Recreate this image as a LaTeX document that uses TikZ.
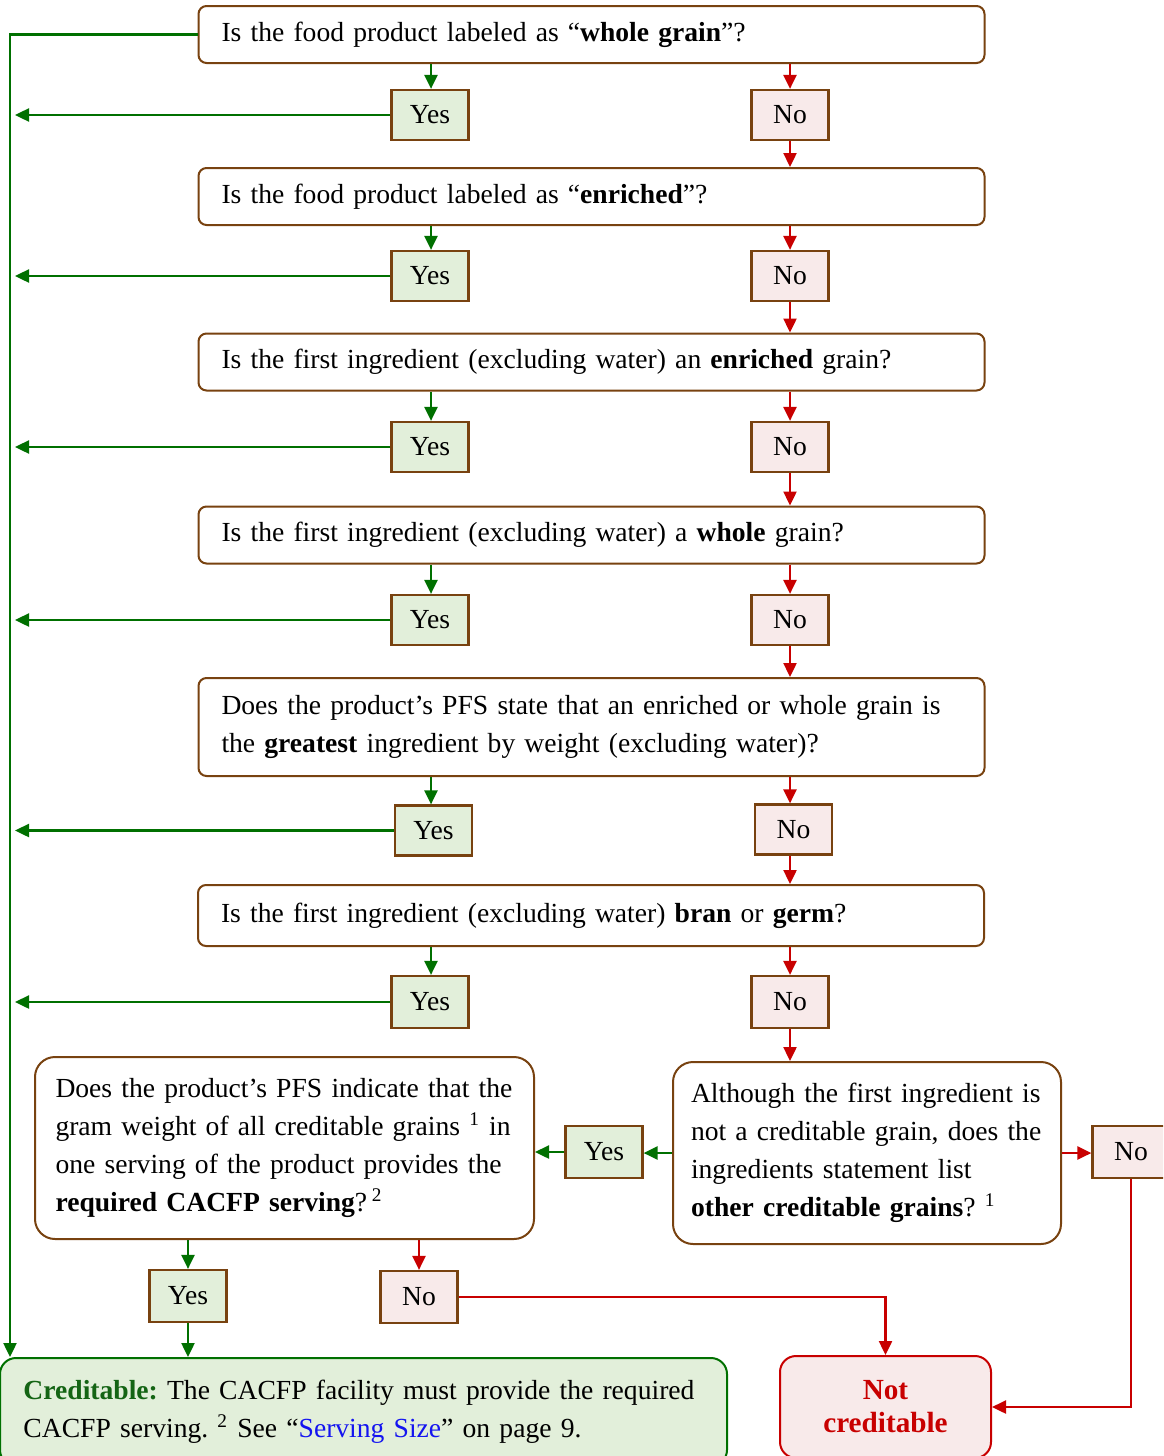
\documentclass[tikz,border=0pt]{standalone}
\usepackage{fontspec}
\setmainfont{Liberation Serif}
\usepackage{tikz}
\usetikzlibrary{arrows.meta}
\definecolor{GBrown}{RGB}{120,66,16}
\definecolor{GGreen}{RGB}{0,112,0}
\definecolor{GGreenText}{RGB}{20,100,20}
\definecolor{GRed}{RGB}{200,0,0}
\definecolor{GYesFill}{RGB}{226,239,218}
\definecolor{GNoFill}{RGB}{248,234,234}
\definecolor{GLink}{RGB}{20,20,240}
\frenchspacing

\begin{document}
\begin{tikzpicture}[x=0.5pt, y=-0.5pt,
          every node/.style={font=\fontsize{13.8pt}{19pt}\selectfont},
          qb/.style={rectangle, rounded corners=4pt, draw=GBrown, line width=1pt,
                     fill=white, align=left, text width=370pt, inner xsep=11.5pt,
                     minimum height=28.5pt},
          bigq/.style={qb, rounded corners=10pt, minimum height=91pt},
          yb/.style={rectangle, draw=GBrown, line width=1.1pt, fill=GYesFill,
                     minimum width=38.5pt, minimum height=25pt, inner sep=0pt},
          nb/.style={yb, fill=GNoFill},
          credbox/.style={rectangle, rounded corners=8pt, draw=GGreen, line width=1pt,
                     fill=GYesFill, align=left, text width=340pt, inner xsep=11.75pt,
                     minimum height=54pt},
          notbox/.style={rectangle, rounded corners=8pt, draw=GRed, line width=1pt,
                     fill=GNoFill, align=center, text=GRed, minimum width=105.5pt,
                     minimum height=51pt, font=\fontsize{14.6pt}{16.5pt}\selectfont\bfseries},
          yarr/.style={-{Triangle[length=7pt, width=6.5pt]}, draw=GGreen, line width=1.2pt},
          narr/.style={yarr, draw=GRed}
        ]
        \clip (0,0) rectangle (1163,1456);
        \coordinate (ycol)    at (431,0);
        \coordinate (ncol)    at (790,0);
        \coordinate (rail)    at (10,0);
        \coordinate (railtip) at (15,0);

        \node[qb] (q1) at (591.5,34.5)
              {Is the food product labeled as “\textbf{whole grain}”?};
        \node[yb] (yes1) at (430,115) {Yes};
        \node[nb] (no1)  at (790,115) {No};

        \node[qb] (q2) at (591.5,196.5)
              {Is the food product labeled as “\textbf{enriched}”?};
        \node[yb] (yes2) at (430,276) {Yes};
        \node[nb] (no2)  at (790,276) {No};

        \node[qb] (q3) at (591.5,362)
              {Is the first ingredient (excluding water) an \textbf{enriched} grain?};
        \node[yb] (yes3) at (430,447) {Yes};
        \node[nb] (no3)  at (790,447) {No};

        \node[qb] (q4) at (591.5,535)
              {Is the first ingredient (excluding water) a \textbf{whole} grain?};
        \node[yb] (yes4) at (430,620) {Yes};
        \node[nb] (no4)  at (790,620) {No};

        \node[qb, minimum height=49pt] (q5) at (591.5,727)
              {Does the product’s PFS state that an enriched or whole grain is\\
               the \textbf{greatest} ingredient by weight (excluding water)?};
        \node[yb] (yes5) at (433.5,830.5) {Yes};
        \node[nb] (no5)  at (793.5,829.5) {No};

        \node[qb, minimum height=30.5pt] (q6) at (591,915.5)
              {Is the first ingredient (excluding water) \textbf{bran} or \textbf{germ}?};
        \node[yb, minimum height=26pt] (yes6) at (430,1002) {Yes};
        \node[nb, minimum height=26pt] (no6)  at (790,1002) {No};

        \node[bigq, text width=229pt, inner xsep=10.25pt] (q7) at (284.5,1148)
              {Does the product’s PFS indicate that the\\
               gram weight of all creditable grains \textsuperscript{1} in\\
               one serving of the product provides the\\
               \textbf{required CACFP serving}?\,\textsuperscript{2}};
        \node[bigq, text width=176pt, inner xsep=9pt] (q8) at (867,1153)
              {Although the first ingredient is\\
               not a creditable grain, does the\\
               ingredients statement list\\
               \textbf{other creditable grains}? \textsuperscript{1}};
        \node[yb, minimum height=26pt] (yes7) at (604,1152) {Yes};
        \node[nb, minimum height=26pt] (no8)  at (1131,1152) {No};

        \node[yb, minimum height=26pt] (yes9) at (188,1296) {Yes};
        \node[nb, minimum height=26pt] (no9)  at (419,1297) {No};

        \node[credbox] (cred) at (363.5,1412)
              {{\color{GGreenText}\textbf{Creditable:}} The CACFP facility must provide the required\\
               CACFP serving. \textsuperscript{2} See “{\color{GLink}Serving Size}” on page 9.};
        \node[notbox] (notcr) at (885.5,1407) {Not\\creditable};

        % yes answers run to the left rail
        \draw[yarr] (q1.west) -| (cred.north -| rail);
        \draw[yarr] (yes1.west) -- (yes1.west -| railtip);
        \draw[yarr] (yes2.west) -- (yes2.west -| railtip);
        \draw[yarr] (yes3.west) -- (yes3.west -| railtip);
        \draw[yarr] (yes4.west) -- (yes4.west -| railtip);
        \draw[yarr] (yes5.west) -- (yes5.west -| railtip);
        \draw[yarr] (yes6.west) -- (yes6.west -| railtip);

        \draw[yarr] (q1.south -| ycol) -- (yes1.north -| ycol);
        \draw[narr] (q1.south -| ncol) -- (no1.north -| ncol);
        \draw[narr] (no1.south -| ncol) -- (q2.north -| ncol);
        \draw[yarr] (q2.south -| ycol) -- (yes2.north -| ycol);
        \draw[narr] (q2.south -| ncol) -- (no2.north -| ncol);
        \draw[narr] (no2.south -| ncol) -- (q3.north -| ncol);
        \draw[yarr] (q3.south -| ycol) -- (yes3.north -| ycol);
        \draw[narr] (q3.south -| ncol) -- (no3.north -| ncol);
        \draw[narr] (no3.south -| ncol) -- (q4.north -| ncol);
        \draw[yarr] (q4.south -| ycol) -- (yes4.north -| ycol);
        \draw[narr] (q4.south -| ncol) -- (no4.north -| ncol);
        \draw[narr] (no4.south -| ncol) -- (q5.north -| ncol);
        \draw[yarr] (q5.south -| ycol) -- (yes5.north -| ycol);
        \draw[narr] (q5.south -| ncol) -- (no5.north -| ncol);
        \draw[narr] (no5.south -| ncol) -- (q6.north -| ncol);
        \draw[yarr] (q6.south -| ycol) -- (yes6.north -| ycol);
        \draw[narr] (q6.south -| ncol) -- (no6.north -| ncol);
        \draw[narr] (no6.south -| ncol) -- (q8.north -| ncol);

        % other creditable grains
        \draw[yarr] (q8.west) -- (q8.west -| yes7.east);
        \draw[yarr] (yes7.west) -- (yes7.west -| q7.east);
        \draw[narr] (q8.east) -- (q8.east -| no8.west);
        \draw[narr] (no8.south) |- (notcr.east);

        \draw[yarr] (q7.south -| yes9) -- (yes9.north);
        \draw[narr] (q7.south -| no9) -- (no9.north);
        \draw[yarr] (yes9.south) -- (yes9.south |- cred.north);
        \draw[narr] (no9.east) -| (notcr.north);
      \end{tikzpicture}
\end{document}
